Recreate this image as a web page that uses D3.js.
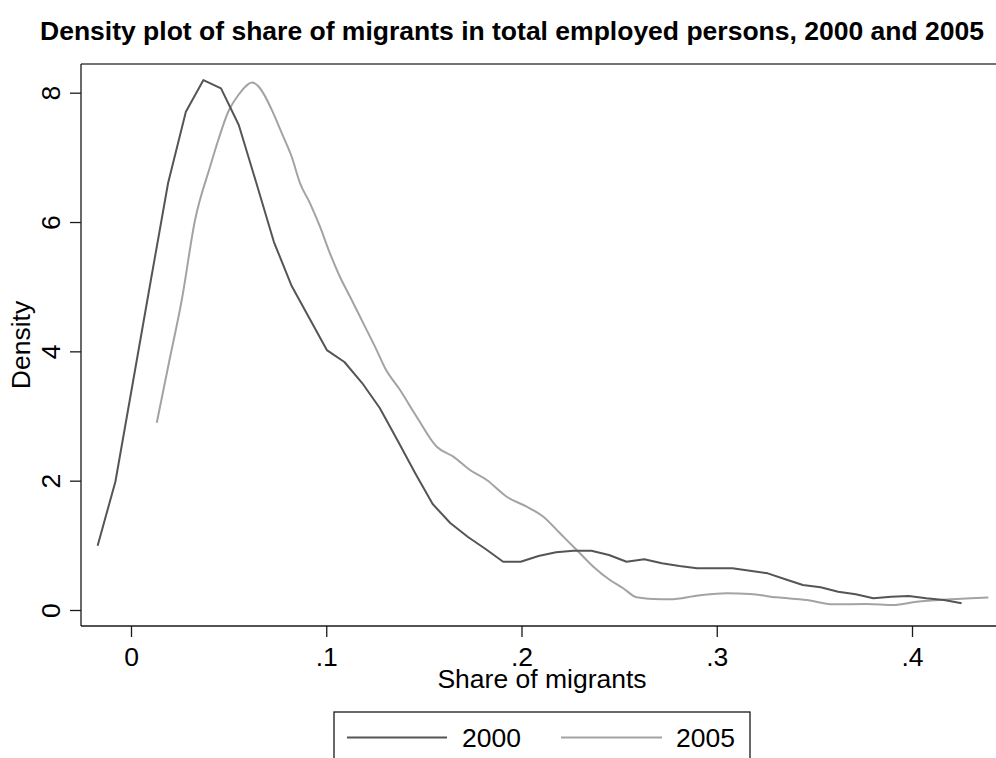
<!DOCTYPE html>
<html>
<head>
<meta charset="utf-8">
<script src="https://cdn.jsdelivr.net/npm/d3@7"></script>
<style>
  html, body { margin: 0; padding: 0; background: #fff; }
  svg { display: block; font-family: "Liberation Sans", Arial, Helvetica, sans-serif; }
</style>
</head>
<body>
<svg id="chart" width="996" height="758"></svg>
<script>
// ---- data ----
const title = "Density plot of share of migrants in total employed persons, 2000 and 2005";
const xTitle = "Share of migrants";
const yTitle = "Density";
const seriesNames = ["2000", "2005"];
const xTickValues = [0, 0.1, 0.2, 0.3, 0.4];
const xTickLabels = ["0", ".1", ".2", ".3", ".4"];
const yTickValues = [0, 2, 4, 6, 8];
const yTickLabels = ["0", "2", "4", "6", "8"];

const x2000 = [-0.0171, -0.0080, 0.0010, 0.0100, 0.0190, 0.0281, 0.0371, 0.0461, 0.0552, 0.0642,
  0.0732, 0.0823, 0.0913, 0.1003, 0.1093, 0.1184, 0.1274, 0.1364, 0.1455, 0.1545,
  0.1635, 0.1726, 0.1816, 0.1906, 0.1996, 0.2087, 0.2177, 0.2267, 0.2358, 0.2448,
  0.2538, 0.2629, 0.2719, 0.2809, 0.2899, 0.2990, 0.3080, 0.3170, 0.3261, 0.3351,
  0.3441, 0.3532, 0.3622, 0.3712, 0.3802, 0.3893, 0.3983, 0.4073, 0.4164, 0.4254];
const y2000 = [0.994, 1.984, 3.526, 5.072, 6.603, 7.705, 8.195, 8.067, 7.500, 6.603,
  5.691, 5.010, 4.515, 4.020, 3.835, 3.510, 3.124, 2.629, 2.119, 1.639,
  1.345, 1.129, 0.943, 0.747, 0.747, 0.835, 0.892, 0.917, 0.917, 0.850,
  0.747, 0.784, 0.722, 0.680, 0.645, 0.645, 0.645, 0.608, 0.567, 0.475,
  0.387, 0.351, 0.283, 0.243, 0.181, 0.206, 0.216, 0.181, 0.155, 0.104];

const x2005 = [0.0132, 0.0195, 0.0260, 0.0328, 0.0405, 0.0447, 0.0498, 0.0550, 0.0601, 0.0620,
  0.0651, 0.0678, 0.0729, 0.0780, 0.0823, 0.0866, 0.0917, 0.0968, 0.1019, 0.1070,
  0.1122, 0.1190, 0.1258, 0.1301, 0.1378, 0.1463, 0.1566, 0.1651, 0.1736, 0.1822,
  0.1924, 0.2027, 0.2112, 0.2197, 0.2283, 0.2368, 0.2453, 0.2521, 0.2590, 0.2675,
  0.2761, 0.2906, 0.3051, 0.3170, 0.3307, 0.3461, 0.3597, 0.3768, 0.3904, 0.4024,
  0.4195, 0.4391];
const y2005 = [2.896, 3.835, 4.794, 6.031, 6.855, 7.268, 7.705, 7.964, 8.134, 8.157,
  8.103, 7.990, 7.681, 7.319, 7.010, 6.598, 6.289, 5.927, 5.516, 5.154,
  4.845, 4.433, 4.020, 3.742, 3.402, 2.989, 2.525, 2.371, 2.165, 2.010,
  1.752, 1.597, 1.443, 1.186, 0.928, 0.670, 0.464, 0.336, 0.196, 0.170,
  0.165, 0.224, 0.258, 0.247, 0.196, 0.155, 0.088, 0.093, 0.077, 0.128,
  0.165, 0.193];

// ---- layout ----
const svg = d3.select("#chart");
const W = 996, H = 758;
const frame = { left: 81, top: 64, bottom: 626, right: 996 };
const x = d3.scaleLinear().domain([0, 0.4]).range([131, 912]);
const y = d3.scaleLinear().domain([0, 8]).range([610, 92.7]);
const axisColor = "#1a1a1a";
const fs = 26.5;
const colors = ["#555555", "#a3a3a3"];

svg.append("rect").attr("width", W).attr("height", H).attr("fill", "#fff");

// title
svg.append("text")
  .attr("x", 512).attr("y", 40)
  .attr("text-anchor", "middle")
  .attr("font-weight", "bold")
  .attr("font-size", 26.5)
  .attr("fill", "#000")
  .text(title);

// frame lines
svg.append("line").attr("x1", frame.left).attr("x2", frame.right).attr("y1", frame.top).attr("y2", frame.top)
  .attr("stroke", "#444").attr("stroke-width", 1.3);
svg.append("line").attr("x1", frame.left).attr("x2", frame.left).attr("y1", frame.top).attr("y2", frame.bottom)
  .attr("stroke", axisColor).attr("stroke-width", 1.3);
svg.append("line").attr("x1", frame.left).attr("x2", frame.right).attr("y1", frame.bottom).attr("y2", frame.bottom)
  .attr("stroke", axisColor).attr("stroke-width", 1.3);

// x axis
const xAxis = d3.axisBottom(x).tickValues(xTickValues).tickSize(11).tickPadding(3)
  .tickFormat((d, i) => xTickLabels[i]);
const gx = svg.append("g").attr("transform", `translate(0,${frame.bottom})`).call(xAxis);
gx.select(".domain").remove();
gx.selectAll(".tick line").attr("stroke", axisColor).attr("stroke-width", 1.3);
gx.selectAll(".tick text").attr("font-size", fs).attr("font-family", "Liberation Sans, Arial, sans-serif")
  .attr("fill", "#000").attr("dy", null).attr("y", 40);

// y axis
const yAxis = d3.axisLeft(y).tickValues(yTickValues).tickSize(11)
  .tickFormat((d, i) => yTickLabels[i]);
const gy = svg.append("g").attr("transform", `translate(${frame.left},0)`).call(yAxis);
gy.select(".domain").remove();
gy.selectAll(".tick line").attr("stroke", axisColor).attr("stroke-width", 1.3);
gy.selectAll(".tick text")
  .attr("font-size", fs).attr("font-family", "Liberation Sans, Arial, sans-serif")
  .attr("fill", "#000")
  .attr("x", null).attr("dy", null)
  .attr("text-anchor", "middle")
  .attr("transform", "translate(-21,0) rotate(-90)");

// axis titles
svg.append("text").attr("x", 542).attr("y", 688).attr("text-anchor", "middle")
  .attr("font-size", fs).attr("fill", "#000").text(xTitle);
svg.append("text").attr("transform", "translate(30,345) rotate(-90)").attr("text-anchor", "middle")
  .attr("font-size", fs).attr("fill", "#000").text(yTitle);

// lines
const line2000 = d3.line().x(d => x(d[0])).y(d => y(d[1]));
const line2005 = d3.line().x(d => x(d[0])).y(d => y(d[1])).curve(d3.curveMonotoneX);
const data2000 = x2000.map((v, i) => [v, y2000[i]]);
const data2005 = x2005.map((v, i) => [v, y2005[i]]);
svg.append("path").datum(data2005).attr("d", line2005)
  .attr("fill", "none").attr("stroke", colors[1]).attr("stroke-width", 2).attr("stroke-linejoin", "round");
svg.append("path").datum(data2000).attr("d", line2000)
  .attr("fill", "none").attr("stroke", colors[0]).attr("stroke-width", 2).attr("stroke-linejoin", "round");

// legend
const lg = svg.append("g");
lg.append("rect").attr("x", 334).attr("y", 712).attr("width", 416).attr("height", 70)
  .attr("fill", "#fff").attr("stroke", axisColor).attr("stroke-width", 1.3);
const legendItems = [
  { x1: 347, x2: 447, tx: 462 },
  { x1: 561, x2: 662, tx: 676 }
];
legendItems.forEach((it, i) => {
  lg.append("line").attr("x1", it.x1).attr("x2", it.x2).attr("y1", 737.5).attr("y2", 737.5)
    .attr("stroke", colors[i]).attr("stroke-width", 2);
  lg.append("text").attr("x", it.tx).attr("y", 747).attr("font-size", fs).attr("fill", "#000")
    .text(seriesNames[i]);
});
</script>
</body>
</html>
